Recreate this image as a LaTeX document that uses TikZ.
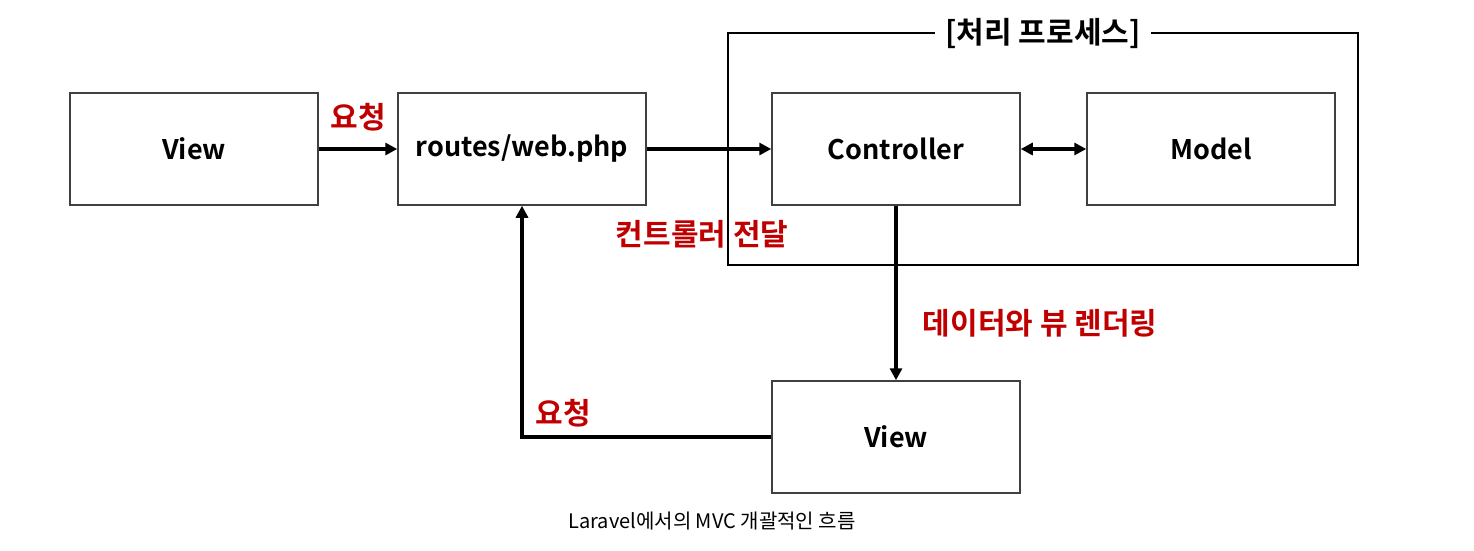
\documentclass[tikz,border=0pt]{standalone}
\usepackage{fontspec}
\setmainfont{Noto Sans CJK KR}
\newfontfamily\kbold{Noto Sans CJK KR Bold}
\usetikzlibrary{arrows.meta}
\definecolor{lblred}{HTML}{C00000}
\definecolor{boxline}{HTML}{404040}
\tikzset{
  box/.style={draw=boxline, line width=1.5pt, fill=white, minimum width=248pt, minimum height=112pt, inner sep=0pt, font=\kbold\fontsize{27pt}{31pt}\selectfont},
  flow/.style={line width=3.2pt, -{Triangle[length=12pt,width=12pt]}},
  lbl/.style={text=lblred, font=\kbold\fontsize{30pt}{34pt}\selectfont, inner sep=0pt},
}
\begin{document}
\begin{tikzpicture}[x=1pt,y=-1pt]
\useasboundingbox (0,0) rectangle (1474,551);
% group frame
\draw[line width=1.5pt] (728,33) rectangle (1358,265);
\node[fill=white, inner xsep=10pt, inner ysep=2pt, font=\kbold\fontsize{30pt}{34pt}\selectfont] (grp) at (1043,33) {[처리 프로세스]};
% boxes
\node[box] (view1) at (194,149) {View};
\node[box] (routes) at (522,149) {routes/web.php};
\node[box] (ctrl) at (896,149) {Controller};
\node[box] (model) at (1211,149) {Model};
\node[box] (view2) at (896,437) {View};
% connectors
\draw[flow] (view1) -- (routes);
\draw[flow] (routes) -- (ctrl);
\draw[line width=3.2pt, {Triangle[length=12pt,width=12pt]}-{Triangle[length=12pt,width=12pt]}] (ctrl) -- (model);
\draw[flow] (ctrl) -- (view2);
\coordinate (corner) at (522,437);
\draw[flow] (view2.west) -- (corner) -- (routes.south);
% labels
\node[lbl] (l1) at (358,117) {요청};
\node[lbl] (l2) at (702,234) {컨트롤러 전달};
\node[lbl] (l3) at (1040,323) {데이터와 뷰 렌더링};
\node[lbl] (l4) at (563,413) {요청};
% caption
\node[font=\fontsize{20pt}{24pt}\selectfont, inner sep=0pt] (cap) at (712,521) {Laravel에서의 MVC 개괄적인 흐름};
\end{tikzpicture}
\end{document}
